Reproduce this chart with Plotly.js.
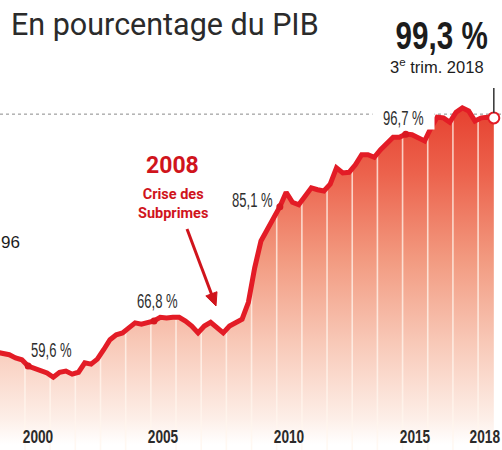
<!DOCTYPE html>
<html><head><meta charset="utf-8">
<script src="https://cdn.plot.ly/plotly-3.0.1.min.js"></script>
<style>html,body{margin:0;padding:0;background:#fff}#chart{width:502px;height:450px}</style>
</head><body><div id="chart"></div>
<script>
// Quarterly public debt, % of GDP (T = trimestre)
const quarterLabels = [
 '1998 T4',
 '1999 T1','1999 T2','1999 T3','1999 T4',
 '2000 T1','2000 T2','2000 T3','2000 T4',
 '2001 T1','2001 T2','2001 T3','2001 T4',
 '2002 T1','2002 T2','2002 T3','2002 T4',
 '2003 T1','2003 T2','2003 T3','2003 T4',
 '2004 T1','2004 T2','2004 T3','2004 T4',
 '2005 T1','2005 T2','2005 T3','2005 T4',
 '2006 T1','2006 T2','2006 T3','2006 T4',
 '2007 T1','2007 T2','2007 T3','2007 T4',
 '2008 T1','2008 T2','2008 T3','2008 T4',
 '2009 T1','2009 T2','2009 T3','2009 T4',
 '2010 T1','2010 T2','2010 T3','2010 T4',
 '2011 T1','2011 T2','2011 T3','2011 T4',
 '2012 T1','2012 T2','2012 T3','2012 T4',
 '2013 T1','2013 T2','2013 T3','2013 T4',
 '2014 T1','2014 T2','2014 T3','2014 T4',
 '2015 T1','2015 T2','2015 T3','2015 T4',
 '2016 T1','2016 T2','2016 T3','2016 T4',
 '2017 T1','2017 T2','2017 T3','2017 T4',
 '2018 T1','2018 T2','2018 T3'
];
const debt = [
 61.8,
 61.7, 61.4, 60.9, 60.6,
 59.6, 59.3, 59.0, 58.5,
 57.8, 58.6, 58.8, 58.3,
 58.6, 60.1, 59.9, 60.7,
 62.2, 63.8, 64.6, 64.9,
 65.7, 66.5, 66.3, 66.5,
 66.8, 67.4, 67.3, 67.4,
 67.4, 66.8, 66.0, 64.9,
 66.0, 66.6, 65.8, 64.9,
 66.0, 66.5, 67.1, 69.8,
 75.3, 79.6, 81.4, 83.1,
 85.1, 87.4, 85.8, 85.4,
 86.8, 88.1, 87.8, 87.6,
 88.7, 91.3, 90.5, 90.6,
 91.8, 93.4, 93.4, 93.0,
 94.2, 95.3, 96.2, 96.2,
 96.7, 96.6, 96.2, 95.6,
 97.7, 99.4, 99.3, 98.6,
 100.2, 100.9, 100.4, 98.8,
 99.3, 99.4, 99.3
];
const highlighted = ['2000 T1','2005 T1','2010 T1','2015 T1'];
const highlightText = ['59,6 %','66,8 %','85,1 %','96,7 %'];
const axisYears = [2000, 2005, 2010, 2015, 2018];
const gridYears = [2000,2001,2002,2003,2004,2005,2006,2007,2008,2009,2010,2011,2012,2013,2014,2015,2016,2017,2018];

// x position of each quarter: middle of the quarter on a continuous year axis
const xq = quarterLabels.map(l => { const [y, q] = l.split(' T'); return +y + (+q - 0.5) / 4; });
const valueAt = x => {
  for (let i = 0; i < xq.length - 1; i++) {
    if (x >= xq[i] && x <= xq[i+1]) { const t = (x - xq[i]) / (xq[i+1] - xq[i]); return debt[i] + t * (debt[i+1] - debt[i]); }
  }
  return debt[debt.length - 1];
};
const gx = [], gy = [];
gridYears.forEach(y => { gx.push(y, y, null); gy.push(40, valueAt(y) - 0.4, null); });

const hx = highlighted.map(l => xq[quarterLabels.indexOf(l)]);
const hy = highlighted.map(l => debt[quarterLabels.indexOf(l)]);
const lastX = xq[xq.length - 1], lastY = debt[debt.length - 1];

const RED = '#e31c26';
const traces = [
  { x: xq, y: debt, type: 'scatter', mode: 'none', fill: 'tozeroy',
    fillgradient: { type: 'vertical', start: 47, stop: 101,
      colorscale: [[0,'rgba(255,255,255,1)'],[0.08,'#fdeee7'],[0.3,'#f8c9b8'],[0.55,'#f29a80'],[0.8,'#ec634d'],[1,'#e6402f']] },
    hoverinfo: 'skip' },
  { x: gx, y: gy, type: 'scatter', mode: 'lines', line: { color: 'rgba(255,246,238,0.75)', width: 1.6 }, hoverinfo: 'skip' },
  { x: xq, y: debt, type: 'scatter', mode: 'lines', line: { color: RED, width: 5, shape: 'linear' } },
  { x: hx, y: hy, type: 'scatter', mode: 'markers', marker: { color: '#d81820', size: 7 } },
  { x: [lastX], y: [lastY], type: 'scatter', mode: 'markers', marker: { color: '#fff', size: 11, line: { color: RED, width: 2 } } }
];

const px = (x) => x / 502, py = (y) => 1 - y / 450;
const sans = 'Liberation Sans, Arial, sans-serif';
const annotations = [];
const squeeze = []; // [annotation index, horizontal scale, origin]
const addText = (a, scale, origin) => { annotations.push(a); if (scale) squeeze.push([annotations.length - 1, scale, origin || 'center']); };

addText({ text: 'En pourcentage du PIB', xref: 'paper', yref: 'paper', x: px(9), y: py(24), xanchor: 'left', yanchor: 'middle', showarrow: false,
  font: { family: 'Roboto, sans-serif', size: 30.5, color: '#2b2b2b' } });
addText({ text: '<b>99,3 %</b>', xref: 'paper', yref: 'paper', x: px(441), y: py(36), xanchor: 'center', yanchor: 'middle', showarrow: false,
  font: { family: sans, size: 39, color: '#1c1c1c' } }, 0.76);
addText({ text: '3<sup>e</sup> trim. 2018', xref: 'paper', yref: 'paper', x: px(437), y: py(66), xanchor: 'center', yanchor: 'middle', showarrow: false,
  font: { family: sans, size: 16.5, color: '#1c1c1c' } });
addText({ text: '96', xref: 'paper', yref: 'paper', x: px(22), y: py(242), xanchor: 'right', yanchor: 'middle', showarrow: false,
  font: { family: sans, size: 17, color: '#1c1c1c' } });
addText({ text: '<b>2008</b>', xref: 'paper', yref: 'paper', x: px(172), y: py(166), xanchor: 'center', yanchor: 'middle', showarrow: false,
  font: { family: 'Roboto, sans-serif', size: 23, color: '#d0141c' } });
addText({ text: '<b>Crise des<br>Subprimes</b>', xref: 'paper', yref: 'paper', x: px(173), y: py(204), xanchor: 'center', yanchor: 'middle', showarrow: false,
  font: { family: 'Roboto, sans-serif', size: 14.5, color: '#d0141c' } });
const labelPos = [[51,350],[157,301],[252,200],[403,118]];
highlightText.forEach((t, i) => addText({ text: t, xref: 'paper', yref: 'paper', x: px(labelPos[i][0]), y: py(labelPos[i][1]),
  xanchor: 'center', yanchor: 'middle', showarrow: false, bgcolor: i === 3 ? '#ffffff' : 'rgba(0,0,0,0)', borderpad: 0,
  font: { family: sans, size: 19.5, color: '#2e2e2e' } }, 0.67));
axisYears.forEach((y, i) => {
  const last = i === axisYears.length - 1;
  addText({ text: '<b>' + y + '</b>', xref: last ? 'paper' : 'x', yref: 'paper', x: last ? 1 : y + 0.5, y: py(437),
    xanchor: last ? 'right' : 'center', yanchor: 'middle', showarrow: false,
    font: { family: sans, size: 18, color: '#2a2a2a' } }, 0.76, last ? 'right' : 'center');
});

// arrow pointing at the 2008 crisis (pixel positions of the original drawing)
const arrowFrom = [187, 229], arrowTip = [216, 306];
const ux = arrowTip[0] - arrowFrom[0], uy = arrowTip[1] - arrowFrom[1], ul = Math.hypot(ux, uy);
const dx = ux / ul, dy = uy / ul, headL = 13, headW = 6;
const base = [arrowTip[0] - headL * dx, arrowTip[1] - headL * dy];
const P = (x, y) => px(x).toFixed(4) + ',' + py(y).toFixed(4);
const headPath = 'M' + P(arrowTip[0], arrowTip[1]) + ' L' + P(base[0] - headW * dy, base[1] + headW * dx) +
  ' L' + P(base[0] + headW * dy, base[1] - headW * dx) + ' Z';

const layout = {
  width: 502, height: 450, margin: { l: 0, r: 0, t: 0, b: 0 },
  paper_bgcolor: '#fff', plot_bgcolor: '#fff', showlegend: false,
  xaxis: { range: [1999.007, 2018.95], showgrid: false, zeroline: false, showticklabels: false, showline: false, fixedrange: true },
  yaxis: { range: [46.16, 118.16], showgrid: false, zeroline: false, showticklabels: false, showline: false, fixedrange: true },
  shapes: [
    { type: 'line', layer: 'below', xref: 'paper', yref: 'y', x0: 0, x1: 1, y0: lastY + 0.6, y1: lastY + 0.6, line: { color: '#8a8a8a', width: 1, dash: 'dot' } },
    { type: 'line', xref: 'x', yref: 'paper', x0: lastX, x1: lastX, y0: py(88), y1: py(113), line: { color: '#333', width: 1.5 } },
    { type: 'line', xref: 'paper', yref: 'paper', x0: px(arrowFrom[0]), y0: py(arrowFrom[1]), x1: px(base[0] + dx), y1: py(base[1] + dy),
      line: { color: '#d0141c', width: 3 } },
    { type: 'path', xref: 'paper', yref: 'paper', path: headPath, fillcolor: '#d0141c', line: { color: '#d0141c', width: 1 } }
  ],
  annotations: annotations
};
Plotly.newPlot('chart', traces, layout, { staticPlot: true, displayModeBar: false }).then(gd => {
  // narrow (condensed) lettering, as in the original infographic
  squeeze.forEach(([idx, s, origin]) => {
    const g = gd.querySelector('.annotation[data-index="' + idx + '"]');
    if (!g) return;
    const t = g.querySelector('text.annotation-text');
    if (!t) return;
    const b = t.getBBox();
    const cx = origin === 'right' ? b.x + b.width : b.x + b.width / 2;
    t.setAttribute('transform', 'translate(' + cx + ' 0) scale(' + s + ' 1) translate(' + (-cx) + ' 0)');
  });
});
</script></body></html>
